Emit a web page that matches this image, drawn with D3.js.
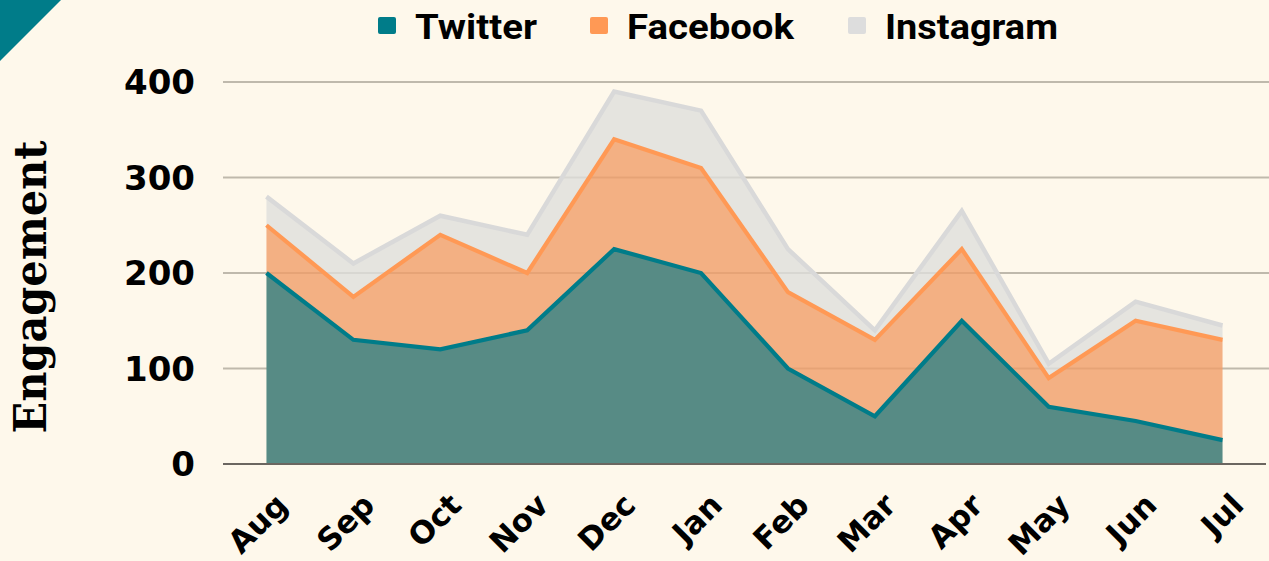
<!DOCTYPE html>
<html>
<head>
<meta charset="utf-8">
<script src="https://cdn.jsdelivr.net/npm/d3@7"></script>
<style>
  body { margin: 0; background: #fef8eb; }
  svg { display: block; }
</style>
</head>
<body>
<div id="chart"></div>
<script>
var months = ['Aug','Sep','Oct','Nov','Dec','Jan','Feb','Mar','Apr','May','Jun','Jul'];
var twitter = [200,130,120,140,225,200,100,50,150,60,45,25];
var facebook = [50,45,120,60,115,110,80,80,75,30,105,105];
var instagram = [30,35,20,40,50,60,45,10,40,15,20,15];
var yTicks = [0,100,200,300,400];
var seriesNames = ['Twitter','Facebook','Instagram'];

var W = 1269, H = 561;
var plotLeft = 223, plotRight = 1266, plotTop = 82, plotBottom = 464;

var lineColors = ['#007c89','#ff9955','#d9d9d9'];
var fillColors = ['#578b85','#f09e69','#dfdfdc'];
var fillOpacity = [1, 0.8, 0.8];

var rows = months.map(function(m, i){
    return { month: m, Twitter: twitter[i], Facebook: facebook[i], Instagram: instagram[i] };
});
var stacked = d3.stack().keys(seriesNames)(rows);

var svg = d3.select('#chart').append('svg')
    .attr('width', W)
    .attr('height', H);

svg.append('rect').attr('width', W).attr('height', H).attr('fill', '#fef8eb');

// corner triangle
svg.append('path').attr('d', 'M0,0L61,0L0,61Z').attr('fill', '#007c89');

var x = d3.scalePoint().domain(months).range([plotLeft, plotRight]).padding(0.5);
var y = d3.scaleLinear().domain([0, 400]).range([plotBottom, plotTop]);

// grid
svg.append('g').selectAll('line')
    .data(yTicks.filter(function(d){ return d > 0; }))
    .enter().append('line')
    .attr('x1', plotLeft).attr('x2', W)
    .attr('y1', function(d){ return y(d); })
    .attr('y2', function(d){ return y(d); })
    .attr('stroke', '#bfb9ac')
    .attr('stroke-width', 2);

var area = d3.area()
    .x(function(d){ return x(d.data.month); })
    .y0(function(d){ return y(d[0]); })
    .y1(function(d){ return y(d[1]); });

var line = d3.line()
    .x(function(d){ return x(d.data.month); })
    .y(function(d){ return y(d[1]); });

// top layer first so the lower layer lines sit above
var order = [2, 1, 0];
order.forEach(function(i){
    svg.append('path')
        .datum(stacked[i])
        .attr('d', area)
        .attr('fill', fillColors[i])
        .attr('fill-opacity', fillOpacity[i]);
});
order.forEach(function(i){
    svg.append('path')
        .datum(stacked[i])
        .attr('d', line)
        .attr('fill', 'none')
        .attr('stroke', lineColors[i])
        .attr('stroke-width', i == 2 ? 4.5 : 4.2);
});

// baseline
svg.append('line')
    .attr('x1', plotLeft).attr('x2', plotRight)
    .attr('y1', y(0)).attr('y2', y(0))
    .attr('stroke', '#6b6660')
    .attr('stroke-width', 2);

// y labels
svg.append('g').selectAll('text')
    .data(yTicks)
    .enter().append('text')
    .attr('x', 195)
    .attr('y', function(d){ return y(d); })
    .attr('dy', '0.36em')
    .attr('text-anchor', 'end')
    .attr('font-family', '"DejaVu Sans", sans-serif')
    .attr('font-weight', 'bold')
    .attr('font-size', 34)
    .attr('fill', '#000')
    .text(function(d){ return d; });

// x labels
svg.append('g').selectAll('text')
    .data(months)
    .enter().append('text')
    .attr('transform', function(d){ return 'translate(' + (x(d) + 23) + ',' + 507 + ') rotate(-45)'; })
    .attr('text-anchor', 'end')
    .attr('font-family', '"DejaVu Sans", sans-serif')
    .attr('font-weight', 'bold')
    .attr('font-size', 31)
    .attr('fill', '#000')
    .text(function(d){ return d; });

// y title
svg.append('text')
    .attr('transform', 'translate(46,287) rotate(-90)')
    .attr('text-anchor', 'middle')
    .attr('font-family', '"DejaVu Serif", serif')
    .attr('font-weight', 'bold')
    .attr('font-size', 44)
    .attr('textLength', 293)
    .attr('lengthAdjust', 'spacingAndGlyphs')
    .attr('fill', '#000')
    .text('Engagement');

// legend
var legendX = [378, 590, 848];
var legendWidths = [122, 167, 173];
var legendColors = ['#007c89','#ff9955','#dddddd'];
var legend = svg.append('g');
seriesNames.forEach(function(name, i){
    legend.append('rect')
        .attr('x', legendX[i]).attr('y', 17)
        .attr('width', 18).attr('height', 17)
        .attr('rx', 2)
        .attr('fill', legendColors[i]);
    legend.append('text')
        .attr('x', legendX[i] + 37)
        .attr('y', 39)
        .attr('font-family', 'Roboto, sans-serif')
        .attr('font-weight', 700)
        .attr('font-size', 35)
        .attr('textLength', legendWidths[i])
        .attr('lengthAdjust', 'spacingAndGlyphs')
        .attr('fill', '#000')
        .text(name);
});
</script>
</body>
</html>
